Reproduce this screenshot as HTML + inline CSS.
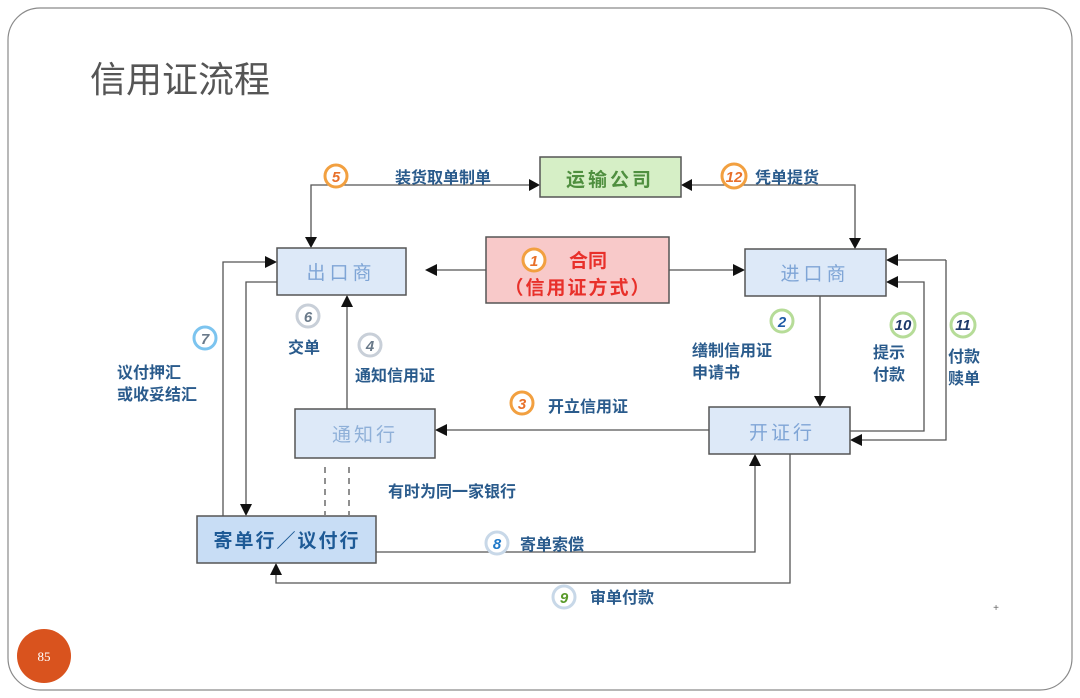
<!DOCTYPE html>
<html><head><meta charset="utf-8"><style>
html,body{margin:0;padding:0;background:#fff;}
svg{display:block;}
text{font-family:"Liberation Sans","Noto Sans CJK SC",sans-serif;}
.lb{fill:#2a5b8c;font-size:16px;font-weight:bold;}
.bx{stroke:#555;stroke-width:1.5;}
.ln{stroke:#555;stroke-width:1.3;fill:none;}
.ah{fill:#111;}
.num{font-size:15px;font-weight:bold;font-style:italic;text-anchor:middle;}
</style></head><body>
<svg width="1080" height="698" viewBox="0 0 1080 698" xmlns="http://www.w3.org/2000/svg">
<rect x="8" y="8" width="1064" height="682" rx="32" fill="#fff" stroke="#8a8a8a" stroke-width="1.2"/>
<text x="90" y="92" font-size="36" fill="#555" style="font-family:'Noto Sans CJK SC',sans-serif">信用证流程</text>
<circle cx="44" cy="656" r="27" fill="#d9531e"/>
<text x="44" y="661" font-size="13" fill="#fff" text-anchor="middle" style="font-family:'Liberation Serif',serif">85</text>

<!-- lines -->
<path class="ln" d="M311 240 V185 H532"/>
<path class="ln" d="M689 185 H855 V241"/>
<path class="ln" d="M486 270 H434"/>
<path class="ln" d="M669 270 H737"/>
<path class="ln" d="M820 296 V399"/>
<path class="ln" d="M850 431 H924 V282 H894"/>
<path class="ln" d="M946 260 H894 M946 260 V440 H858"/>
<path class="ln" d="M709 430 H443"/>
<path class="ln" d="M347 409 V303"/>
<path class="ln" d="M223 516 V262 H269"/>
<path class="ln" d="M277 282 H246 V508"/>
<path class="ln" d="M325 467 V515 M349 467 V515" stroke-dasharray="6,5"/>
<path class="ln" d="M376 552 H755 V462" stroke="#999"/>
<path class="ln" d="M790 454 V583 H276 V571" stroke="#999"/>

<!-- arrowheads -->
<polygon class="ah" points="540,185 529,179 529,191"/>
<polygon class="ah" points="681,185 692,179 692,191"/>
<polygon class="ah" points="311,248 305,237 317,237"/>
<polygon class="ah" points="855,249 849,238 861,238"/>
<polygon class="ah" points="425,270 437,264 437,276"/>
<polygon class="ah" points="745,270 733,264 733,276"/>
<polygon class="ah" points="820,407 814,396 826,396"/>
<polygon class="ah" points="886,282 898,276 898,288"/>
<polygon class="ah" points="886,260 898,254 898,266"/>
<polygon class="ah" points="850,440 862,434 862,446"/>
<polygon class="ah" points="435,430 447,424 447,436"/>
<polygon class="ah" points="347,295 341,307 353,307"/>
<polygon class="ah" points="277,262 265,256 265,268"/>
<polygon class="ah" points="246,516 240,504 252,504"/>
<polygon class="ah" points="755,454 749,466 761,466"/>
<polygon class="ah" points="276,563 270,575 282,575"/>

<!-- boxes -->
<rect class="bx" x="540" y="157" width="141" height="40" fill="#d6efc6"/>
<text x="610" y="186" font-size="19" font-weight="bold" fill="#4f8f3f" text-anchor="middle" letter-spacing="3">运输公司</text>
<rect class="bx" x="277" y="248" width="129" height="47" fill="#dde9f8"/>
<text x="341" y="279" font-size="19" fill="#7fa5d6" text-anchor="middle" letter-spacing="4">出口商</text>
<rect class="bx" x="486" y="237" width="183" height="66" fill="#f8c9c9"/>
<text x="588" y="267" font-size="19" font-weight="bold" fill="#e8302a" text-anchor="middle">合同</text>
<text x="578" y="294" font-size="19" font-weight="bold" fill="#e8302a" text-anchor="middle" letter-spacing="2">（信用证方式）</text>
<circle cx="534" cy="260" r="11" fill="#fff" stroke="#f2a040" stroke-width="3"/>
<text x="534" y="266" class="num" fill="#e8702a">1</text>
<rect class="bx" x="745" y="249" width="141" height="47" fill="#dde9f8"/>
<text x="815" y="280" font-size="19" fill="#7fa5d6" text-anchor="middle" letter-spacing="4">进口商</text>
<rect class="bx" x="295" y="409" width="140" height="49" fill="#dde9f8"/>
<text x="365" y="441" font-size="19" fill="#8fb0d8" text-anchor="middle" letter-spacing="3">通知行</text>
<rect class="bx" x="709" y="407" width="141" height="47" fill="#dde9f8"/>
<text x="782" y="439" font-size="19" fill="#7fa5d6" text-anchor="middle" letter-spacing="3">开证行</text>
<rect class="bx" x="197" y="516" width="179" height="47" fill="#c8ddf5"/>
<text x="287" y="547" font-size="19" font-weight="bold" fill="#1e5a96" text-anchor="middle" letter-spacing="2">寄单行／议付行</text>

<!-- number circles -->
<g stroke-width="3" fill="#fff">
<circle cx="336" cy="176" r="11" stroke="#f2a040"/>
<circle cx="734" cy="176" r="12" stroke="#f2a040"/>
<circle cx="782" cy="321" r="11" stroke="#b6dc98"/>
<circle cx="903" cy="325" r="12" stroke="#b6dc98"/>
<circle cx="963" cy="325" r="12" stroke="#b6dc98"/>
<circle cx="522" cy="403" r="11" stroke="#f2a040"/>
<circle cx="370" cy="345" r="11" stroke="#c8cfd8"/>
<circle cx="308" cy="316" r="11" stroke="#c8cfd8"/>
<circle cx="205" cy="338" r="11" stroke="#7cc4ef"/>
<circle cx="497" cy="543" r="11" stroke="#c8d8e8"/>
<circle cx="564" cy="597" r="11" stroke="#c8d8e8"/>
</g>
<text x="336" y="182" class="num" fill="#e8702a">5</text>
<text x="734" y="182" class="num" fill="#e8702a" font-size="13">12</text>
<text x="782" y="327" class="num" fill="#1e5aa6">2</text>
<text x="903" y="330" class="num" fill="#1e3a6a" font-size="13">10</text>
<text x="963" y="330" class="num" fill="#1e3a6a" font-size="13">11</text>
<text x="522" y="409" class="num" fill="#e8702a">3</text>
<text x="370" y="351" class="num" fill="#6a7a8a">4</text>
<text x="308" y="322" class="num" fill="#6a7a8a">6</text>
<text x="205" y="344" class="num" fill="#6a7a8a">7</text>
<text x="497" y="549" class="num" fill="#1e78c8">8</text>
<text x="564" y="603" class="num" fill="#5a9a2a">9</text>

<!-- labels -->
<text x="395" y="183" class="lb">装货取单制单</text>
<text x="755" y="183" class="lb">凭单提货</text>
<text x="692" y="356" class="lb">缮制信用证</text>
<text x="692" y="378" class="lb">申请书</text>
<text x="873" y="358" class="lb">提示</text>
<text x="873" y="380" class="lb">付款</text>
<text x="948" y="362" class="lb">付款</text>
<text x="948" y="384" class="lb">赎单</text>
<text x="548" y="412" class="lb">开立信用证</text>
<text x="355" y="381" class="lb">通知信用证</text>
<text x="288" y="353" class="lb">交单</text>
<text x="117" y="378" class="lb">议付押汇</text>
<text x="117" y="400" class="lb">或收妥结汇</text>
<text x="388" y="497" class="lb">有时为同一家银行</text>
<text x="520" y="550" class="lb">寄单索偿</text>
<text x="590" y="603" class="lb">审单付款</text>
<text x="996" y="611" font-size="10" fill="#666" text-anchor="middle">+</text>
</svg>
</body></html>
